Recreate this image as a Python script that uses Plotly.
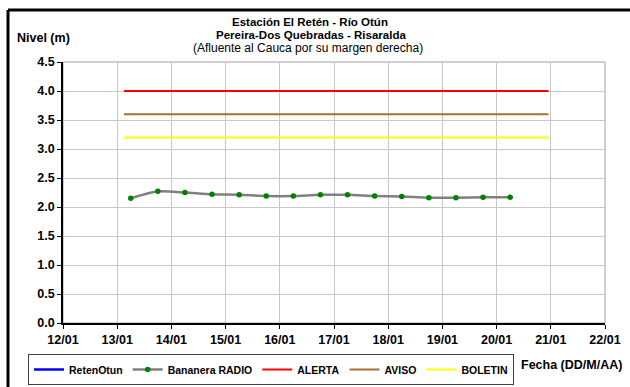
import plotly.graph_objects as go

# Data
obs_times = ["2024-01-13 06:00", "2024-01-13 18:00", "2024-01-14 06:00", "2024-01-14 18:00",
             "2024-01-15 06:00", "2024-01-15 18:00", "2024-01-16 06:00", "2024-01-16 18:00",
             "2024-01-17 06:00", "2024-01-17 18:00", "2024-01-18 06:00", "2024-01-18 18:00",
             "2024-01-19 06:00", "2024-01-19 18:00", "2024-01-20 06:00"]
bananera_radio = [2.15, 2.27, 2.25, 2.22, 2.21, 2.19, 2.19, 2.21, 2.21, 2.19, 2.18, 2.16, 2.16, 2.17, 2.17]
threshold_times = ["2024-01-13 03:00", "2024-01-20 23:00"]
alerta = [4.0, 4.0]
aviso = [3.6, 3.6]
boletin = [3.2, 3.2]
x_range = ["2024-01-12", "2024-01-22"]
y_range = [0, 4.5]

FONT = "Liberation Sans, Arial, sans-serif"

fig = go.Figure()
fig.add_trace(go.Scatter(x=[None], y=[None], mode="lines", name="RetenOtun",
                         line=dict(color="#0000ff", width=2.5)))
fig.add_trace(go.Scatter(x=obs_times, y=bananera_radio, mode="lines+markers", name="Bananera RADIO",
                         line=dict(color="#808080", width=2.5, shape="spline", smoothing=0.6),
                         marker=dict(color="#008000", size=5.5)))
fig.add_trace(go.Scatter(x=threshold_times, y=alerta, mode="lines", name="ALERTA",
                         line=dict(color="#ff0000", width=2)))
fig.add_trace(go.Scatter(x=threshold_times, y=aviso, mode="lines", name="AVISO",
                         line=dict(color="#a86f35", width=2)))
fig.add_trace(go.Scatter(x=threshold_times, y=boletin, mode="lines", name="BOLETIN",
                         line=dict(color="#ffff00", width=2)))

W, H = 630, 387
L, R, T, B = 63, 605, 62, 323
pw, ph = R - L, B - T

def px(x):
    return (x - L) / pw

def py(y):
    return (B - y) / ph

fig.update_layout(
    width=W, height=H,
    margin=dict(l=L, r=W - R, t=T, b=H - B, autoexpand=False),
    paper_bgcolor="white", plot_bgcolor="white",
    font=dict(family=FONT, size=10, color="black"),
    showlegend=True,
    legend=dict(orientation="h", xref="container", yref="container",
                x=28 / W, y=1 - 354 / H, xanchor="left", yanchor="top",
                bordercolor="#404040", borderwidth=1, bgcolor="white",
                font=dict(family=FONT, size=10.5, weight="bold"),
                itemwidth=30, tracegroupgap=0),
    xaxis=dict(type="date", range=x_range, dtick=86400000, tickformat="%d/%m",
               showgrid=True, gridcolor="#c8c8c8", gridwidth=1, automargin=False,
               showline=True, linecolor="black", linewidth=1.5,
               ticks="outside", ticklen=4, tickcolor="black",
               tickfont=dict(family=FONT, size=12.5, weight="bold"), zeroline=False),
    yaxis=dict(range=y_range, dtick=0.5, tickformat=".1f",
               showgrid=True, gridcolor="#c8c8c8", gridwidth=1, automargin=False,
               showline=True, linecolor="black", linewidth=1.5,
               ticks="outside", ticklen=4, tickcolor="black",
               tickfont=dict(family=FONT, size=12.5, weight="bold"), zeroline=False),
    shapes=[
        dict(type="rect", xref="paper", yref="paper", x0=0, x1=1, y0=0, y1=1,
             line=dict(color="#a0a0a0", width=1), layer="below"),
        # outer chart frame (top and left edges; the others fall outside the picture)
        dict(type="line", xref="paper", yref="paper",
             x0=px(8), x1=px(700), y0=py(10), y1=py(10),
             line=dict(color="black", width=3)),
        dict(type="line", xref="paper", yref="paper",
             x0=px(8), x1=px(8), y0=py(10), y1=py(500),
             line=dict(color="black", width=3)),
    ],
    annotations=[
        dict(text="<b>Estación El Retén - Río Otún</b>", xref="paper", yref="paper",
             x=px(310), y=py(22), xanchor="center", yanchor="middle",
             showarrow=False, font=dict(size=11.5)),
        dict(text="<b>Pereira-Dos Quebradas - Risaralda</b>", xref="paper", yref="paper",
             x=px(311), y=py(35), xanchor="center", yanchor="middle",
             showarrow=False, font=dict(size=11.5)),
        dict(text="(Afluente al Cauca por su margen derecha)", xref="paper", yref="paper",
             x=px(308), y=py(48), xanchor="center", yanchor="middle",
             showarrow=False, font=dict(size=12)),
        dict(text="<b>Nivel (m)</b>", xref="paper", yref="paper",
             x=px(15), y=py(38), xanchor="left", yanchor="middle",
             showarrow=False, font=dict(size=12.5)),
        dict(text="<b>Fecha (DD/M/AA)</b>", xref="paper", yref="paper",
             x=px(519), y=py(365), xanchor="left", yanchor="middle",
             showarrow=False, font=dict(size=12.5)),
    ],
)

fig.write_html("out.html", config={"displayModeBar": False},
               post_script="document.body.style.margin='0';document.body.style.overflow='hidden';")
